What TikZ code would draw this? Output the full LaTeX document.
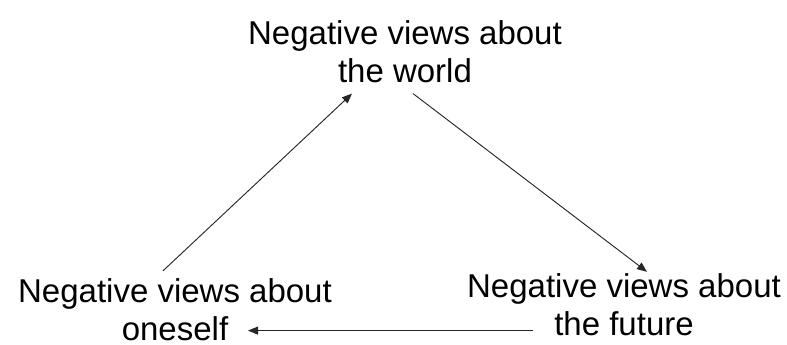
\documentclass[tikz,border=0pt]{standalone}
\usepackage{fontspec}
\setmainfont{Liberation Sans}
\usetikzlibrary{arrows.meta}
\usetikzlibrary{calc}

\tikzset{
  view/.style={anchor=base, align=center, inner sep=0pt, font=\fontsize{24.75}{28.5}\selectfont},
  arr/.style={draw=black!85, line width=0.7pt, -{Triangle[length=7.5pt,width=6pt]}}
}

\begin{document}
\begin{tikzpicture}[x=0.75pt,y=0.75pt,yscale=-1,xscale=1]
        \useasboundingbox (0,0) rectangle (787,345);

        % Text Node
        \node [view] (world) at (405,83) {Negative views about\\the world};
        % Text Node
        \node [view] (future) at (624,335) {Negative views about\\the future};
        % Text Node
        \node [view] (self) at (175,340) {Negative views about\\oneself};

        %Straight Lines
        \draw [arr] ($(self.north)+(-12,-7)$) -- ($(world.south)+(-53,10)$);
        %Straight Lines
        \draw [arr] ($(world.south)+(8,10)$) -- ($(future.north)+(23,-1)$);
        %Straight Lines
        \draw [arr] ($(future.south)+(-91,-5)$) -- ($(self.south)+(73,-10)$);

\end{tikzpicture}
\end{document}
